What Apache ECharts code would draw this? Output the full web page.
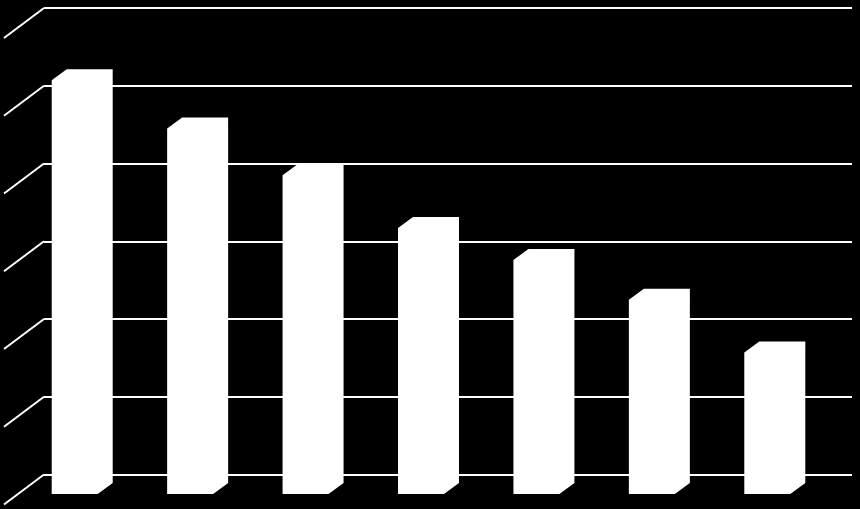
<!DOCTYPE html>
<html>
<head>
<meta charset="utf-8">
<script src="https://cdn.jsdelivr.net/npm/echarts@6/dist/echarts.min.js"></script>
<style>html,body{margin:0;padding:0;background:#000;}#c{width:860px;height:509px;}</style>
</head>
<body>
<div id="c"></div>
<script>
var categories = ['1', '2', '3', '4', '5', '6', '7'];
var values = [53.2, 47.0, 41.0, 34.2, 30.1, 25.0, 18.2];
var tickValues = [0, 10, 20, 30, 40, 50, 60];

var chart = echarts.init(document.getElementById('c'));
var DEPTH_X = 40, DEPTH_Y = 30;      // side wall / floor depth
var FRONT_DX = -27, FRONT_DY = 19.5; // bar front plane offset from back wall
var BOX_DX = 15, BOX_DY = -11;       // bar depth
var HALF_W = 23;

chart.setOption({
  backgroundColor: '#000',
  animation: false,
  grid: { left: 44, right: 8, top: 8, bottom: 34.5 },
  xAxis: {
    type: 'category', data: categories,
    axisLine: { show: false }, axisTick: { show: false }, axisLabel: { show: false }
  },
  yAxis: {
    type: 'value', min: 0, max: 60, interval: 10,
    axisLine: { show: false }, axisTick: { show: false }, axisLabel: { show: false },
    splitLine: { show: true, lineStyle: { color: '#ffffff', width: 2 } }
  },
  series: [
    {
      type: 'custom',
      data: tickValues.map(function (v) { return [0, v]; }),
      renderItem: function (params, api) {
        var p = api.coord([0, api.value(1)]);
        var x0 = params.coordSys.x;
        return {
          type: 'line',
          shape: { x1: x0, y1: p[1], x2: x0 - DEPTH_X, y2: p[1] + DEPTH_Y },
          style: { stroke: '#ffffff', lineWidth: 2 }
        };
      },
      z: 1
    },
    {
      type: 'custom',
      data: values.map(function (v, i) { return [i, v]; }),
      renderItem: function (params, api) {
        var top = api.coord([api.value(0), api.value(1)]);
        var base = api.coord([api.value(0), 0]);
        var cx = top[0] + FRONT_DX;
        var L = cx - HALF_W, R = cx + HALF_W;
        var T = top[1] + FRONT_DY, B = base[1] + FRONT_DY;
        return {
          type: 'polygon',
          shape: { points: [
            [L, B], [L, T], [L + BOX_DX, T + BOX_DY], [R + BOX_DX, T + BOX_DY],
            [R + BOX_DX, B + BOX_DY], [R, B]
          ] },
          style: { fill: '#ffffff' }
        };
      },
      z: 2
    }
  ]
});
</script>
</body>
</html>
